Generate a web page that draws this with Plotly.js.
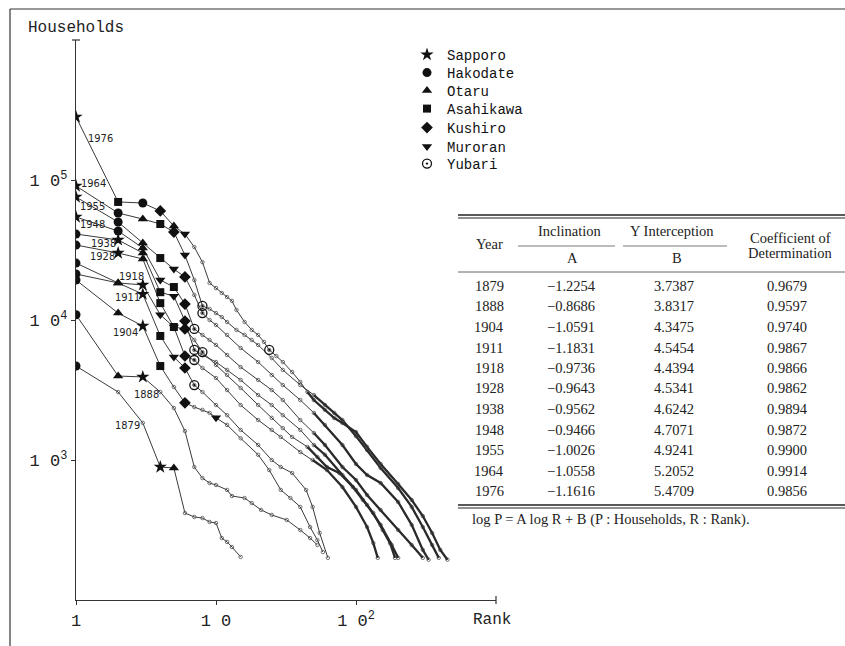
<!DOCTYPE html>
<html><head><meta charset="utf-8">
<script src="https://cdn.plot.ly/plotly-3.0.1.min.js"></script>
<style>body{margin:0;background:#fff}#chart{width:845px;height:646px}</style>
</head><body><div id="chart"></div>
<script>
// ---------- data ----------
const years = [1879, 1888, 1904, 1911, 1918, 1928, 1938, 1948, 1955, 1964, 1976];

const rank1879 = [1,2,3,4,5,6,7,8,9,10,11,12,13,15];
const hh1879   = [4690,3060,1840,891,877,418,392,385,361,355,277,260,239,203];

const rank1888 = [1,2,3,4,5,6,7,8,9,10,12,13,16,18,21,25,32,40,47,53];
const hh1888   = [10900,3980,3920,3060,2350,1610,891,743,685,663,611,553,535,493,440,405,373,316,277,247];

const rank1904 = [1,2,3,4,5,6,7,8,9,10,12,15,20,24,29,34,40,47,53,58];
const hh1904   = [19300,11200,9060,4690,3320,2560,2390,2280,2170,2000,1780,1430,1090,848,611,535,462,332,268,220];

const rank1911 = [1,2,3,4,5,6,7,8,10,12,15,20,25,29,35,44,49,55,63];
const hh1911   = [21300,18400,15300,7690,5440,4540,3430,3060,2470,2090,1640,1280,1000,891,807,611,462,301,200];

const rank1918 = [1,2,3,4,5,6,7,8,10,12,15,20,25,29,40,49,62,80,100,120,133,143];
const hh1918   = [25500,18400,17800,10900,8910,5530,5180,4540,3850,3160,2470,1930,1640,1460,1140,1000,848,641,462,332,255,200];

const rank1928 = [1,2,3,4,5,6,7,8,10,12,15,20,25,30,35,45,53,62,76,95,112,133,155,175,190];
const hh1928   = [34300,30100,27300,13200,8910,8630,7200,5900,4770,4050,3270,2470,2000,1690,1460,1240,1050,891,807,641,518,418,316,255,200];

const rank1938 = [1,2,3,4,5,6,7,8,10,12,15,20,25,30,40,50,60,80,100,120,150,180,200];
const hh1938   = [41100,37300,30100,15800,14800,9840,6110,5620,5010,4400,3730,2910,2470,2090,1640,1280,1090,781,611,477,344,247,200];

const rank1948 = [1,2,3,4,5,6,7,8,9,10,12,15,20,25,30,40,50,60,80,100,120,150,200,250,300];
const hh1948   = [54400,43200,32700,19300,17200,13000,8630,7820,7200,6630,5620,4610,3730,3160,2680,1930,1560,1280,891,720,562,440,316,247,200];

const rank1955 = [1,2,3,4,5,6,7,8,9,10,12,15,20,25,30,40,50,60,80,100,120,150,200,250,300,330];
const hh1955   = [75600,50100,35500,27700,23100,20300,15100,11200,10000,9210,7820,6310,5010,4050,3430,2680,2170,1780,1280,936,781,685,501,344,228,194];

const rank1964 = [1,2,3,4,5,6,7,8,9,10,11,12,14,16,18,20,25,30,40,50,60,70,80,100,120,150,200,250,300,350,390];
const hh1964   = [90600,58100,52600,48500,42500,29100,19300,12600,12000,11200,10500,9680,8490,7820,7200,6630,5350,4400,3430,2910,2470,2170,1930,1480,1180,877,631,462,332,247,200];

const rank1976 = [1,2,3,4,5,6,7,8,9,10,11,12,13,14,16,18,20,22,24,27,30,35,40,45,50,60,70,80,100,120,150,200,250,300,350,400,450];
const hh1976   = [282000,69700,68500,60100,46900,41100,33200,25900,18400,16900,15600,14600,13700,11800,9680,8490,7820,6970,6110,5530,5010,4250,3610,3060,2680,2280,1995,1840,1585,1240,936,674,518,398,301,228,194];

// rank of each city in each year (aligned with `years`), null = not marked
const cities = ['Sapporo','Hakodate','Otaru','Asahikawa','Kushiro','Muroran','Yubari'];
const sapporoRank   = [4,3,3,3,3,2,2,1,1,1,1];
const hakodateRank  = [1,1,1,1,1,1,1,2,2,2,3];
const otaruRank     = [5,2,2,2,2,3,3,3,3,3,5];
const asahikawaRank = [null,null,4,4,5,4,4,5,4,4,2];
const kushiroRank   = [null,null,6,6,6,6,6,6,6,5,4];
const muroranRank   = [null,null,10,5,4,5,5,4,5,6,6];
const yubariRank    = [null,null,null,7,7,8,7,7,8,8,24];

// regression table
const inclA  = [-1.2254,-0.8686,-1.0591,-1.1831,-0.9736,-0.9643,-0.9562,-0.9466,-1.0026,-1.0558,-1.1616];
const interB = [3.7387,3.8317,4.3475,4.5454,4.4394,4.5341,4.6242,4.7071,4.9241,5.2052,5.4709];
const coefR2 = [0.9679,0.9597,0.9740,0.9867,0.9866,0.9862,0.9894,0.9872,0.9900,0.9914,0.9856];

// ---------- build ----------
const series = {
  1879:[rank1879,hh1879],1888:[rank1888,hh1888],1904:[rank1904,hh1904],1911:[rank1911,hh1911],
  1918:[rank1918,hh1918],1928:[rank1928,hh1928],1938:[rank1938,hh1938],1948:[rank1948,hh1948],
  1955:[rank1955,hh1955],1964:[rank1964,hh1964],1976:[rank1976,hh1976]
};
const cityRanks = [sapporoRank,hakodateRank,otaruRank,asahikawaRank,kushiroRank,muroranRank,yubariRank];
const citySymbols = ['star','circle','triangle-up','square','diamond','triangle-down','circle-open-dot'];
const citySizes = [10,9,9,8,9,9,9];

const W = 845, H = 646;
const px = x => x / W, py = y => 1 - y / H;

const traces = [];
years.forEach(yr => {
  const [r, h] = series[yr];
  traces.push({
    type:'scatter', mode:'lines+markers', x:r, y:h, showlegend:false, hoverinfo:'skip',
    line:{color:'#3a3a3a', width:1},
    marker:{symbol:'circle-open', size:3.5, color:'#555', line:{width:0.8}}
  });
  // the long dense tails print as heavy beaded lines
  if (yr >= 1918) {
    const tr = [], th = [];
    r.forEach((v,i) => { if (v >= 45) { tr.push(v); th.push(h[i]); } });
    if (tr.length > 1) traces.push({
      type:'scatter', mode:'lines', x:tr, y:th, showlegend:false, hoverinfo:'skip',
      line:{color:'#2a2a2a', width:2.3}
    });
  }
});

const mono = 'Liberation Mono, DejaVu Sans Mono, monospace';
const legendRowY = [55,73,91,109,128,147,164];
const legends = {};
cities.forEach((c, ci) => {
  const xs = [], ys = [];
  years.forEach((yr, yi) => {
    const rk = cityRanks[ci][yi];
    if (rk == null) return;
    const [r, h] = series[yr];
    const idx = r.indexOf(rk);
    if (idx >= 0) { xs.push(rk); ys.push(h[idx]); }
  });
  const lg = ci === 0 ? 'legend' : 'legend' + (ci + 1);
  legends[lg] = {x:px(407), y:py(legendRowY[ci]), xanchor:'left', yanchor:'middle',
    bgcolor:'rgba(0,0,0,0)', font:{family:mono, size:14, color:'#111'}};
  traces.push({
    type:'scatter', mode:'markers', name:c, legend:lg, x:xs, y:ys, hoverinfo:'skip',
    marker:{symbol:citySymbols[ci], size:citySizes[ci], color:'#111',
            line:{color:'#111', width: ci===6 ? 1.3 : 0}}
  });
});

// year labels near curves
const yearLabelPos = {1976:[100,138],1964:[93,184],1955:[92,207],1948:[92,224],1938:[103,243],
  1928:[102,257],1918:[131,276],1911:[127,297],1904:[125,332],1888:[146,394],1879:[127,425]};
const annotations = [];
const labFont = {family:'Liberation Sans Narrow, DejaVu Sans Condensed, Liberation Sans, sans-serif', size:11, color:'#222'};
years.forEach(yr => {
  const [x,y] = yearLabelPos[yr];
  annotations.push({xref:'paper',yref:'paper',x:px(x),y:py(y),text:String(yr),showarrow:false,
    xanchor:'center',yanchor:'middle',font:labFont});
});
annotations.push({xref:'paper',yref:'paper',x:px(76),y:py(28),text:'Households',showarrow:false,
  xanchor:'center',yanchor:'middle',font:{family:mono,size:16,color:'#222'}});
annotations.push({xref:'paper',yref:'paper',x:px(492),y:py(620),text:'Rank',showarrow:false,
  xanchor:'center',yanchor:'middle',font:{family:mono,size:16,color:'#222'}});

// table
const serif = 'Liberation Serif, DejaVu Serif, serif';
const tf = {family:serif, size:14.5, color:'#222'};
const T = (x,y,t,anchor) => annotations.push({xref:'paper',yref:'paper',x:px(x),y:py(y),text:t,
  showarrow:false,xanchor:anchor||'center',yanchor:'middle',font:tf});
T(489,244,'Year'); T(570,231,'Inclination'); T(672,231,'Y Interception');
T(572,258,'A'); T(677,258,'B'); T(790,238,'Coefficient of'); T(790,253,'Determination');
years.forEach((yr,i) => {
  const y = 286 + 20.5*i;
  T(489,y,String(yr));
  T(571,y,'\u2212' + Math.abs(inclA[i]).toFixed(4));
  T(674,y,interB[i].toFixed(4));
  T(787,y,coefR2[i].toFixed(4));
});
T(470,519,'log P = A log R + B (P : Households, R : Rank).','left');

const L = (x0,y0,x1,y1,w,c) => ({type:'line',xref:'paper',yref:'paper',x0:px(x0),y0:py(y0),x1:px(x1),y1:py(y1),
  line:{color:c||'#222',width:w||1}});
const shapes = [
  L(10,9,845,9,1.2,'#333'), L(10,9,10,646,1.2,'#333'),
  L(72,40,80,40,1.2,'#333'), L(496,596,496,604,1.2,'#333'),
  L(458,215,845,215,1.3), L(458,218,845,218,1),
  L(518,246,615,246,0.8,'#555'), L(623,246,727,246,0.8,'#555'),
  L(458,272,845,272,0.9,'#555'),
  L(458,505,845,505,1.3), L(458,508,845,508,1)
];

const tickFont = {family:mono, size:17, color:'#222'};
const layout = Object.assign({
  width:W, height:H, margin:{l:0,r:0,t:0,b:0},
  paper_bgcolor:'#fff', plot_bgcolor:'rgba(0,0,0,0)',
  showlegend:true,
  xaxis:{type:'log', range:[0,3], domain:[px(76), px(496)], showgrid:false, zeroline:false,
    showline:true, linecolor:'#333', linewidth:1.3, ticks:'outside', ticklen:4, tickcolor:'#333',
    tickvals:[1,10,100], ticktext:['1','1 0','1 0<sup>2</sup>'], tickfont:tickFont, fixedrange:true},
  yaxis:{type:'log', range:[2,6], domain:[1-600/H, 1-40/H], showgrid:false, zeroline:false,
    showline:true, linecolor:'#333', linewidth:1.3, ticks:'outside', ticklen:4, tickcolor:'#333',
    tickvals:[1e3,1e4,1e5], ticktext:['1 0<sup>3</sup>','1 0<sup>4</sup>','1 0<sup>5</sup>'],
    tickfont:tickFont, fixedrange:true},
  annotations, shapes
}, legends);
Plotly.newPlot('chart', traces, layout, {displayModeBar:false, staticPlot:true});
</script></body></html>
